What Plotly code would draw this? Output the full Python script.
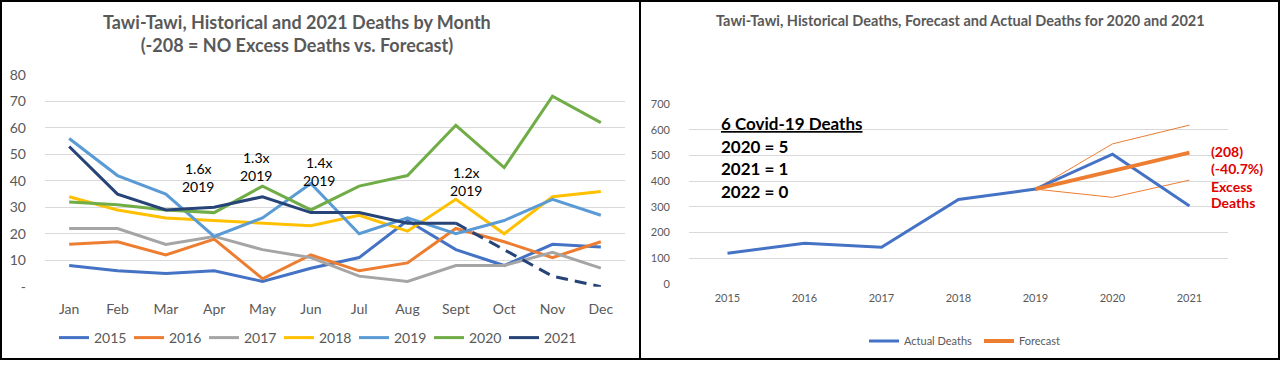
import plotly.graph_objects as go

# ---------------- data ----------------
months = ["Jan", "Feb", "Mar", "Apr", "May", "Jun", "Jul", "Aug", "Sept", "Oct", "Nov", "Dec"]
d2015 = [8, 6, 5, 6, 2, 7, 11, 25, 14, 8, 16, 15]
d2016 = [16, 17, 12, 18, 3, 12, 6, 9, 22, 17, 11, 17]
d2017 = [22, 22, 16, 19, 14, 11, 4, 2, 8, 8, 13, 7]
d2018 = [34, 29, 26, 25, 24, 23, 27, 21, 33, 20, 34, 36]
d2019 = [56, 42, 35, 19, 26, 39, 20, 26, 20, 25, 33, 27]
d2020 = [32, 31, 29, 28, 38, 29, 38, 42, 61, 45, 72, 62]
d2021 = [53, 35, 29, 30, 34, 28, 28, 24, 24, 14, 4, 0]
n_solid_2021 = 9  # Jan..Sept reported, rest projected (dashed)
left_yticks = [0, 10, 20, 30, 40, 50, 60, 70, 80]
left_yticktext = ["-", "10", "20", "30", "40", "50", "60", "70", "80"]

years = ["2015", "2016", "2017", "2018", "2019", "2020", "2021"]
actual_deaths = [120, 158, 143, 329, 369, 505, 303]
forecast = [None, None, None, None, 369, 440, 511]
forecast_upper = [None, None, None, None, 369, 545, 618]
forecast_lower = [None, None, None, None, 369, 337, 404]

W, H = 1280, 368
def px(x):
    return x / W
def py(y):
    return 1 - y / H

FONT = "Lato"
GRAY = "#595959"

series = [
    ("2015", d2015, "#4472C4"),
    ("2016", d2016, "#ED7D31"),
    ("2017", d2017, "#A5A5A5"),
    ("2018", d2018, "#FFC000"),
    ("2019", d2019, "#5B9BD5"),
    ("2020", d2020, "#70AD47"),
]

fig = go.Figure()
for name, vals, col in series:
    fig.add_trace(go.Scatter(x=months, y=vals, mode="lines", name=name,
                             line=dict(color=col, width=3), xaxis="x", yaxis="y",
                             legend="legend", hoverinfo="x+y+name"))
fig.add_trace(go.Scatter(x=months[:n_solid_2021], y=d2021[:n_solid_2021], mode="lines", name="2021",
                         line=dict(color="#264478", width=3), xaxis="x", yaxis="y", legend="legend"))
fig.add_trace(go.Scatter(x=months[n_solid_2021 - 1:], y=d2021[n_solid_2021 - 1:], mode="lines", name="2021",
                         line=dict(color="#264478", width=3, dash="12px,7px"), xaxis="x", yaxis="y",
                         showlegend=False))

# right chart
fig.add_trace(go.Scatter(x=years, y=forecast_upper, mode="lines", showlegend=False,
                         line=dict(color="#ED7D31", width=1), xaxis="x2", yaxis="y2"))
fig.add_trace(go.Scatter(x=years, y=forecast_lower, mode="lines", showlegend=False,
                         line=dict(color="#ED7D31", width=1), xaxis="x2", yaxis="y2"))
fig.add_trace(go.Scatter(x=years, y=actual_deaths, mode="lines", name="Actual Deaths",
                         line=dict(color="#4472C4", width=3), xaxis="x2", yaxis="y2", legend="legend2"))
fig.add_trace(go.Scatter(x=years, y=forecast, mode="lines", name="Forecast",
                         line=dict(color="#ED7D31", width=4), xaxis="x2", yaxis="y2", legend="legend2"))

axis_common = dict(showline=False, zeroline=False, ticks="", fixedrange=True, automargin=False)

fig.update_layout(
    width=W, height=H,
    margin=dict(l=0, r=0, t=0, b=0, pad=0, autoexpand=False),
    paper_bgcolor="white", plot_bgcolor="white",
    font=dict(family=FONT, color=GRAY),
    xaxis=dict(domain=[px(45), px(625)], anchor="y", type="category", range=[-0.5, 11.5],
               showgrid=False, tickfont=dict(size=14, color=GRAY), ticklabelstandoff=12,
               **axis_common),
    yaxis=dict(domain=[py(286.7), py(75)], anchor="x", range=[0, 80],
               tickvals=left_yticks, ticktext=left_yticktext,
               showgrid=True, gridcolor="#D9D9D9", gridwidth=1,
               tickfont=dict(size=14, color=GRAY), ticklabelstandoff=18, **axis_common),
    xaxis2=dict(domain=[px(689), px(1228)], anchor="y2", type="category", range=[-0.5, 6.5],
                showgrid=False, tickfont=dict(size=11, color=GRAY), ticklabelstandoff=6,
                **axis_common),
    yaxis2=dict(domain=[py(284), py(104)], anchor="x2", range=[0, 700], dtick=100,
                showgrid=True, gridcolor="#D9D9D9", gridwidth=1,
                tickfont=dict(size=11, color=GRAY), ticklabelstandoff=18, **axis_common),
    legend=dict(orientation="h", x=px(54), y=py(338), xanchor="left", yanchor="middle",
                font=dict(size=14, color=GRAY, family=FONT), bgcolor="rgba(0,0,0,0)",
                entrywidth=30, itemwidth=30, traceorder="normal"),
    legend2=dict(orientation="h", x=px(864), y=py(341), xanchor="left", yanchor="middle",
                 font=dict(size=11, color=GRAY, family=FONT), bgcolor="rgba(0,0,0,0)",
                 entrywidth=70, itemwidth=30),
    showlegend=True,
)

annotations = [
    dict(x=px(297), y=py(34), text="<b>Tawi-Tawi, Historical and 2021 Deaths by Month<br>(-208 = NO Excess Deaths vs. Forecast)</b>",
         font=dict(size=18, color=GRAY, family=FONT)),
    dict(x=px(960), y=py(20), text="<b>Tawi-Tawi, Historical Deaths, Forecast and Actual Deaths for 2020 and 2021</b>",
         font=dict(size=14.5, color=GRAY, family=FONT)),
    dict(x=px(180), y=py(177), xanchor="left", text="1.6x<br>2019", font=dict(size=14, color="black", family=FONT)),
    dict(x=px(238), y=py(166), xanchor="left", text="1.3x<br>2019", font=dict(size=14, color="black", family=FONT)),
    dict(x=px(301), y=py(171), xanchor="left", text="1.4x<br>2019", font=dict(size=14, color="black", family=FONT)),
    dict(x=px(448), y=py(181), xanchor="left", text="1.2x<br>2019", font=dict(size=14, color="black", family=FONT)),
    dict(x=px(719), y=py(123), xanchor="left", text="<b><u>6 Covid-19 Deaths</u></b>", font=dict(size=17, color="black", family=FONT)),
    dict(x=px(719), y=py(146), xanchor="left", text="<b>2020 = 5</b>", font=dict(size=17, color="black", family=FONT)),
    dict(x=px(719), y=py(168), xanchor="left", text="<b>2021 = 1</b>", font=dict(size=17, color="black", family=FONT)),
    dict(x=px(719), y=py(191), xanchor="left", text="<b>2022 = 0</b>", font=dict(size=17, color="black", family=FONT)),
    dict(x=px(1209), y=py(151), xanchor="left", text="<b>(208)</b>", font=dict(size=14, color="#E00000", family=FONT)),
    dict(x=px(1209), y=py(168), xanchor="left", text="<b>(-40.7%)</b>", font=dict(size=14, color="#E00000", family=FONT)),
    dict(x=px(1209), y=py(186), xanchor="left", text="<b>Excess</b>", font=dict(size=14, color="#E00000", family=FONT)),
    dict(x=px(1209), y=py(203), xanchor="left", text="<b>Deaths</b>", font=dict(size=14, color="#E00000", family=FONT)),
]
for a in annotations:
    a.setdefault("xref", "paper")
    a.setdefault("yref", "paper")
    a.setdefault("showarrow", False)
    a.setdefault("yanchor", "middle")
    a.setdefault("xanchor", "center")
fig.update_layout(annotations=annotations)

fig.update_layout(shapes=[
    dict(type="rect", xref="paper", yref="paper", x0=px(1), x1=px(1279), y0=py(359), y1=py(1),
         line=dict(color="black", width=2)),
    dict(type="line", xref="paper", yref="paper", x0=px(640), x1=px(640), y0=py(359), y1=py(1),
         line=dict(color="black", width=2)),
])

post = (
    "var s=document.createElement('style');"
    "s.textContent='html,body{margin:0!important;padding:0!important;overflow:hidden!important;"
    "width:1280px;height:368px;}';"
    "document.head.appendChild(s);"
    "var g=document.getElementById('{plot_id}');"
    "g.style.position='fixed';g.style.left='0px';g.style.top='0px';"
)

fig.write_html("out.html", config={"displayModeBar": False}, post_script=post)
